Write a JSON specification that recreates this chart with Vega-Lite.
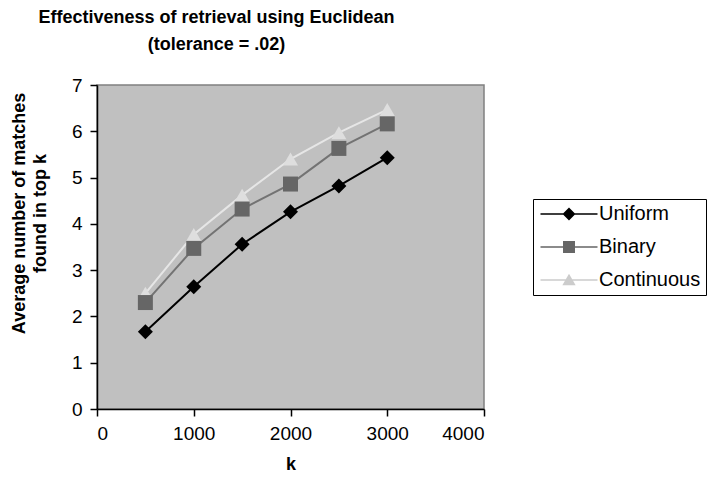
{
  "$schema": "https://vega.github.io/schema/vega-lite/v6.json",
  "width": 387,
  "height": 324,
  "autosize": "none",
  "padding": {"left": 97, "top": 85, "right": 226, "bottom": 80},
  "background": "white",
  "title": {
    "text": ["Effectiveness of retrieval using Euclidean", "(tolerance = .02)"],
    "font": "Liberation Sans",
    "fontSize": 18,
    "fontWeight": "bold",
    "color": "black",
    "anchor": "middle",
    "dx": -74,
    "offset": 22,
    "lineHeight": 27
  },
  "config": {
    "view": {"fill": "#c0c0c0", "stroke": "#808080", "strokeWidth": 1.5},
    "axis": {
      "labelFont": "Liberation Sans",
      "labelFontSize": 19,
      "labelColor": "black",
      "titleFont": "Liberation Sans",
      "titleFontSize": 18,
      "titleFontWeight": "bold",
      "titleColor": "black",
      "domainColor": "black",
      "domainWidth": 1.5,
      "tickColor": "black",
      "tickWidth": 1.5,
      "tickSize": 7,
      "grid": false
    },
    "legend": {
      "orient": "none",
      "legendX": 436,
      "legendY": 114,
      "labelFont": "Liberation Sans",
      "labelFontSize": 20,
      "labelColor": "black",
      "strokeColor": "black",
      "fillColor": "white",
      "padding": 5,
      "symbolSize": 361,
      "symbolStrokeWidth": 0,
      "symbolOpacity": 1,
      "symbolOffset": 21,
      "labelOffset": 20,
      "rowPadding": 13
    }
  },
  "data": {
    "values": [
      {"k": 500, "series": "Continuous", "value": 2.50},
      {"k": 1000, "series": "Continuous", "value": 3.77},
      {"k": 1500, "series": "Continuous", "value": 4.62},
      {"k": 2000, "series": "Continuous", "value": 5.40},
      {"k": 2500, "series": "Continuous", "value": 5.97},
      {"k": 3000, "series": "Continuous", "value": 6.47},
      {"k": 500, "series": "Binary", "value": 2.30},
      {"k": 1000, "series": "Binary", "value": 3.47},
      {"k": 1500, "series": "Binary", "value": 4.32},
      {"k": 2000, "series": "Binary", "value": 4.86},
      {"k": 2500, "series": "Binary", "value": 5.63},
      {"k": 3000, "series": "Binary", "value": 6.16},
      {"k": 500, "series": "Uniform", "value": 1.67},
      {"k": 1000, "series": "Uniform", "value": 2.64},
      {"k": 1500, "series": "Uniform", "value": 3.56},
      {"k": 2000, "series": "Uniform", "value": 4.26},
      {"k": 2500, "series": "Uniform", "value": 4.82},
      {"k": 3000, "series": "Uniform", "value": 5.43}
    ]
  },
  "encoding": {
    "x": {
      "field": "k",
      "type": "quantitative",
      "scale": {"domain": [0, 4000], "nice": false},
      "axis": {
        "values": [0, 1000, 2000, 3000, 4000],
        "format": "d",
        "labelPadding": 8,
        "title": "k",
        "titleBaseline": "alphabetic",
        "titleY": 60
      }
    },
    "y": {
      "field": "value",
      "type": "quantitative",
      "scale": {"domain": [0, 7], "nice": false},
      "axis": {
        "values": [0, 1, 2, 3, 4, 5, 6, 7],
        "labelPadding": 8,
        "title": ["Average number of matches", "found in top k"],
        "titleAngle": -90,
        "titleAlign": "center",
        "titleBaseline": "alphabetic",
        "titleX": -73,
        "titleY": 128,
        "titleLineHeight": 21
      }
    }
  },
  "layer": [
    {
      "mark": {"type": "line", "strokeWidth": 2},
      "encoding": {
        "color": {"field": "series", "type": "nominal", "legend": null, "scale": {"domain": ["Uniform", "Binary", "Continuous"], "range": ["#000000", "#737373", "#e6e6e6"]}}
      }
    },
    {
      "mark": {"type": "point", "filled": true, "opacity": 1, "size": 225},
      "encoding": {
        "color": {"field": "series", "type": "nominal", "legend": null, "scale": {"domain": ["Uniform", "Binary", "Continuous"], "range": ["#000000", "#666666", "#dedede"]}},
        "shape": {"field": "series", "type": "nominal", "legend": null, "scale": {"domain": ["Uniform", "Binary", "Continuous"], "range": ["diamond", "square", "triangle-up"]}}
      }
    },
    {
      "mark": {"type": "point", "filled": true, "opacity": 0},
      "encoding": {
        "color": {"field": "series", "type": "nominal", "legend": {"title": null}, "scale": {"domain": ["Uniform", "Binary", "Continuous"], "range": ["#000000", "#666666", "#cccccc"]}},
        "shape": {"field": "series", "type": "nominal",
          "legend": {"title": null},
          "scale": {"domain": ["Uniform", "Binary", "Continuous"], "range": [
          "M-3,-0.079H3V0.079H-3Z M-0.68,0L0,-0.68L0.68,0L0,0.68Z",
          "M-3,-0.079H3V0.079H-3Z M-0.63,-0.63H0.63V0.63H-0.63Z",
          "M-3,-0.079H3V0.079H-3Z M0,-0.66L0.7,0.55L-0.7,0.55Z"
        ]}}
      }
    }
  ],
  "resolve": {"scale": {"shape": "independent", "color": "independent"}}
}
